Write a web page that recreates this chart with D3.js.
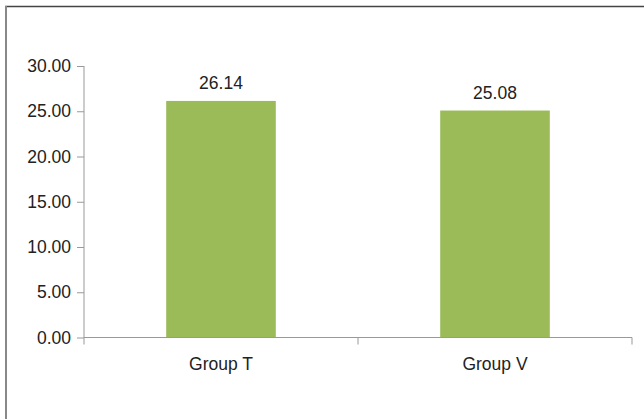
<!DOCTYPE html>
<html>
<head>
<meta charset="utf-8">
<script src="https://cdn.jsdelivr.net/npm/d3@7"></script>
<style>
  body { margin: 0; background: #fff; }
  text { font-family: "Liberation Sans", Arial, sans-serif; fill: #222; }
</style>
</head>
<body>
<svg width="644" height="419"></svg>
<script>
var groups = ["Group T", "Group V"];
var values = [26.14, 25.08];
var yTicks = [0, 5, 10, 15, 20, 25, 30];

var svg = d3.select("svg");

// frame
svg.append("line")
    .attr("x1", 5).attr("y1", 6.5).attr("x2", 644).attr("y2", 6.5)
    .attr("stroke", "#444").attr("stroke-width", 1.5);
svg.append("line")
    .attr("x1", 6).attr("y1", 6).attr("x2", 6).attr("y2", 419)
    .attr("stroke", "#888").attr("stroke-width", 2);

var x = d3.scaleBand().domain(groups).range([84, 632]).paddingInner(0.6).paddingOuter(0.3);
var y = d3.scaleLinear().domain([0, 30]).range([337.5, 66]);

var g = svg.append("g");

g.selectAll(".bar").data(values).enter().append("rect")
    .attr("class", "bar")
    .attr("x", (d, i) => x(groups[i]))
    .attr("y", d => y(d))
    .attr("width", x.bandwidth())
    .attr("height", d => y(0) - y(d))
    .attr("fill", "#9bbb59");

g.selectAll(".val").data(values).enter().append("text")
    .attr("class", "val")
    .attr("x", (d, i) => x(groups[i]) + x.bandwidth() / 2)
    .attr("y", d => y(d) - 12)
    .attr("text-anchor", "middle")
    .style("font-size", "17.5px")
    .text(d => d.toFixed(2));

// y axis
var yAxis = g.append("g")
    .attr("transform", "translate(84,0)")
    .call(d3.axisLeft(y).tickValues(yTicks).tickSize(7).tickPadding(6).tickFormat(d3.format(".2f")));
yAxis.select(".domain").attr("stroke", "#999").attr("d", "M0," + y(30) + "V" + y(0));
yAxis.selectAll(".tick line").attr("stroke", "#999");
yAxis.selectAll(".tick text").style("font-size", "17.5px").attr("fill", "#222");

// x axis
var xEdges = [84, 84 + (632 - 84) / 2, 632];
g.append("line")
    .attr("x1", 84).attr("x2", 632).attr("y1", y(0)).attr("y2", y(0))
    .attr("stroke", "#999");
g.selectAll(".xt").data(xEdges).enter().append("line")
    .attr("class", "xt")
    .attr("x1", d => d).attr("x2", d => d)
    .attr("y1", y(0)).attr("y2", y(0) + 7)
    .attr("stroke", "#999");
g.selectAll(".cat").data(groups).enter().append("text")
    .attr("class", "cat")
    .attr("x", d => x(d) + x.bandwidth() / 2)
    .attr("y", y(0) + 32)
    .attr("text-anchor", "middle")
    .style("font-size", "17.5px")
    .text(d => d);
</script>
</body>
</html>
